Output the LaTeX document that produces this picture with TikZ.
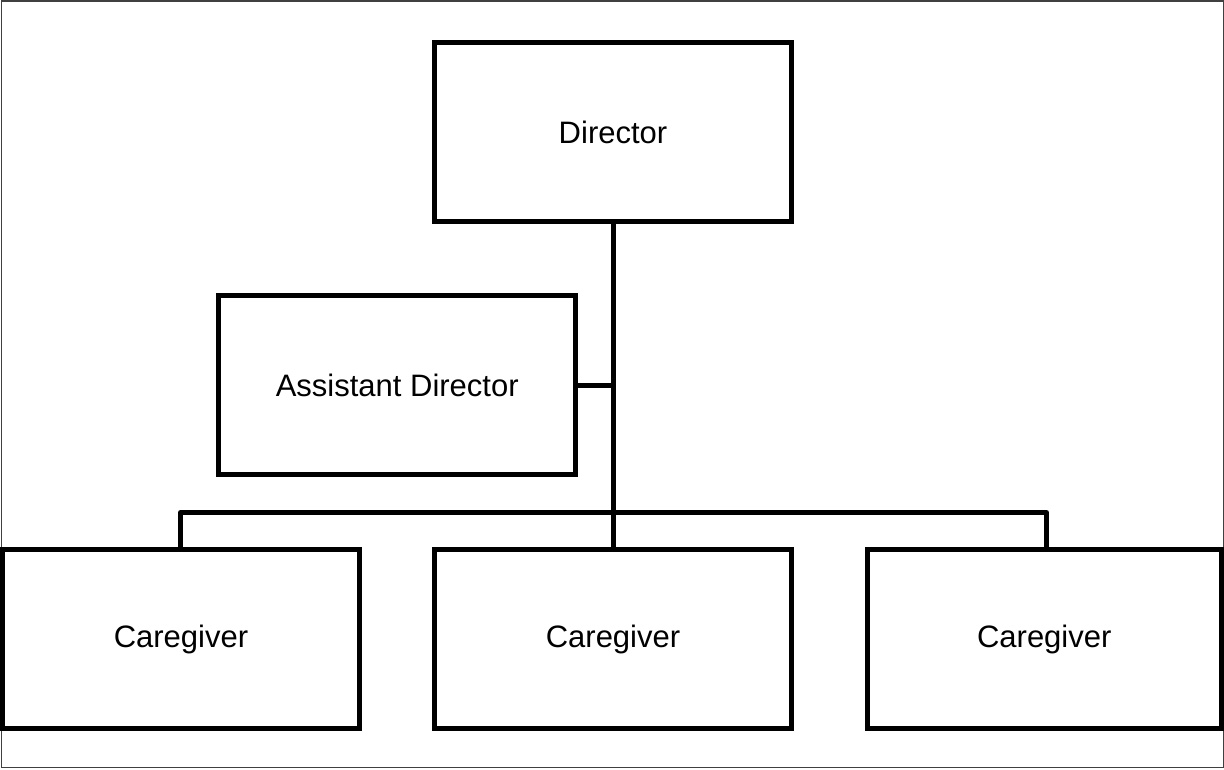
\documentclass[tikz,border=0pt]{standalone}
\usepackage{fontspec}
\setmainfont{Liberation Sans}
\begin{document}
\begin{tikzpicture}[x=1pt,y=-1pt,
  orgbox/.style={draw=black,line width=5pt,fill=white,minimum width=357pt,minimum height=179pt,inner sep=0pt,outer sep=0pt,font=\fontsize{31}{36}\selectfont},
  link/.style={draw=black,line width=5pt}]
\useasboundingbox (0,0) rectangle (1224,769);
\draw[line width=1.5pt,black!75] (1.5,0.75) rectangle (1223.25,767.5);
\node[orgbox] (dir) at (613,132) {Director};
\node[orgbox] (asst) at (397.25,385) {Assistant Director};
\node[orgbox] (c1) at (181,639) {Caregiver};
\node[orgbox] (c2) at (613,639) {Caregiver};
\node[orgbox,minimum width=353.5pt] (c3) at (1044.25,639) {Caregiver};
\coordinate (j) at (613,385);
\coordinate (bar) at (613,512.5);
\coordinate (bl) at (180.5,512.5);
\coordinate (br) at (1046.5,512.5);
\draw[link] (dir.south) -- (j) -- (bar) -- (c2.north);
\draw[link] (asst.east) -- (j);
\draw[link,line join=round] (c1.north -| bl) -- (bl) -- (br) -- (c3.north -| br);
\end{tikzpicture}
\end{document}
